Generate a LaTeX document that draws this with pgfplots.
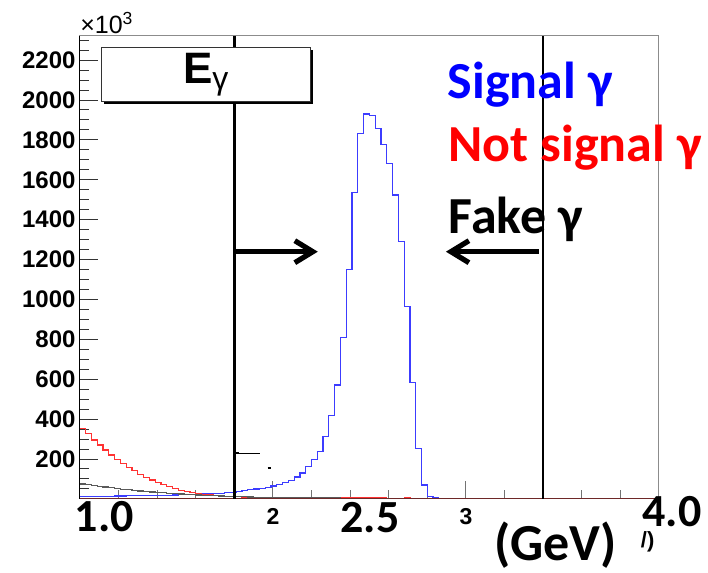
\documentclass[border=0pt]{standalone}
\usepackage{fontspec}
\setmainfont{Liberation Sans}
\newfontfamily\carlito{Carlito}
\usepackage{pgfplots}
\pgfplotsset{compat=1.18}
\usepackage{pgfplotstable}
\usetikzlibrary{arrows.meta}

\definecolor{sigline}{RGB}{60,60,255}
\definecolor{bkgline}{RGB}{255,50,50}
\definecolor{fakeline}{RGB}{90,90,90}
\definecolor{axisbot}{RGB}{110,40,40}

% E_gamma histograms, 100 bins of 0.03 GeV from 1 to 4 (last row closes the last bin)
\pgfplotstableread{
x     sig   bkg  fake
1.00  12    354  75
1.03  12    329  72
1.06  13    295  68
1.09  13    270  64
1.12  14    245  60
1.15  14    220  57
1.18  15    198  53
1.21  15    178  49
1.24  16    158  46
1.27  16    141  43
1.30  17    123  40
1.33  17    108  37
1.36  18    95   35
1.39  18    81   33
1.42  19    71   31
1.45  19    61   29
1.48  20    51   27
1.51  21    43   25
1.54  22    36   23
1.57  23    31   22
1.60  24    26   20
1.63  25    23   19
1.66  26    20   17
1.69  27    18   16
1.72  29    16   15
1.75  31    14   14
1.78  33    13   13
1.81  36    11   12
1.84  42    10   11
1.87  46    9    10
1.90  50    8    9
1.93  54    7    8
1.96  58    7    8
1.99  65    6    7
2.02  71    6    6
2.05  83    5    6
2.08  93    5    5
2.11  110   5    5
2.14  130   4    5
2.17  161   4    4
2.20  197   4    4
2.23  238   4    4
2.26  312   4    4
2.29  417   4    4
2.32  571   4    4
2.35  810   4    3
2.38  1151  4    3
2.41  1537  4    3
2.44  1833  4    3
2.47  1930  4    3
2.50  1923  4    3
2.53  1858  4    3
2.56  1778  4    3
2.59  1683  3    3
2.62  1524  3    3
2.65  1290  3    3
2.68  964   9    2
2.71  583   3    2
2.74  254   3    2
2.77  70    3    2
2.80  12    3    2
2.83  6     3    2
2.86  3     3    2
2.89  2     2    2
2.92  2     2    2
2.95  1     2    2
2.98  1     2    2
3.01  0     2    2
3.04  0     2    2
3.07  0     2    2
3.10  0     2    2
3.13  0     2    1
3.16  0     2    1
3.19  0     2    1
3.22  0     2    1
3.25  0     2    1
3.28  0     2    1
3.31  0     2    1
3.34  0     2    1
3.37  0     2    1
3.40  0     2    1
3.43  0     2    1
3.46  0     2    1
3.49  0     2    1
3.52  0     2    1
3.55  0     2    1
3.58  0     2    1
3.61  0     2    1
3.64  0     2    1
3.67  0     2    1
3.70  0     2    1
3.73  0     2    1
3.76  0     2    1
3.79  0     2    1
3.82  0     2    1
3.85  0     2    1
3.88  0     2    1
3.91  0     2    1
3.94  0     2    1
3.97  0     2    1
4.00  0     2    1
}\hist

\begin{document}
\begin{tikzpicture}
\useasboundingbox (-39.95pt,-37.05pt) rectangle (314.05pt,249.45pt);
\begin{axis}[
  at={(0,0)}, anchor=south west,
  scale only axis,
  width=289.5pt, height=231.45pt,
  xmin=1, xmax=4, ymin=0, ymax=2321,
  clip=false,
  axis line style={black!45, line width=0.5pt},
  tick align=inside,
  xtick pos=left, ytick pos=left,
  xtick={1,2,3,4}, xticklabels={,2,3,},
  minor xtick={1.2,1.4,1.6,1.8,2.2,2.4,2.6,2.8,3.2,3.4,3.6,3.8},
  ytick={200,400,...,2200},
  yticklabels={200,400,600,800,1000,1200,1400,1600,1800,2000,2200},
  minor ytick={50,100,...,2300},
  major tick length=9pt, minor tick length=4.5pt,
  xtick style={black!55, line width=0.5pt},
  ytick style={black!80, line width=0.5pt},
  yticklabel style={font=\fontsize{12}{12}\selectfont\bfseries, inner sep=0pt, xshift=-2pt},
  xticklabel style={font=\fontsize{11.5}{12}\selectfont\bfseries, inner sep=0pt, yshift=-4.5pt},
]
  \addplot[const plot mark left, draw=sigline, line width=0.6pt, no markers] table[x=x, y=sig] {\hist};
  \addplot[const plot mark left, draw=bkgline, line width=0.6pt, no markers] table[x=x, y=bkg] {\hist};
  \addplot[const plot mark left, draw=fakeline, line width=0.6pt, no markers] table[x=x, y=fake] {\hist};

  % frame parts drawn dark
  \draw[black, line width=0.6pt] (1,0) -- (1,2321);
  \draw[axisbot, line width=0.6pt] (1,0) -- (4,0);

  % cut lines
  \draw[black, line width=1.4pt] (1.8,0) -- (1.8,2321);
  \draw[black, line width=1.4pt] (3.4,0) -- (3.4,2321);

  % leftovers near 2 GeV
  \draw[black, line width=0.5pt] (1.8,230) -- (1.931,230);
  \draw[black, line width=1.1pt] (1.8,230) -- (1.826,230);
  \draw[black, line width=0.8pt] (1.973,156) -- (1.99,156);

  % arrows
  \draw[black, line width=2.6pt, -{Straight Barb[length=9pt,width=11pt]}] (1.8,1239.5) -- (2.2327,1239.5);
  \draw[black, line width=2.6pt, -{Straight Barb[length=9pt,width=11pt]}] (3.378,1239.5) -- (2.8966,1239.5);

  % title box
  \fill[black] ([shift={(1.3pt,-1.3pt)}]axis cs:1.1127,2264) rectangle ([shift={(1.3pt,-1.3pt)}]axis cs:2.1934,1991.6);
  \filldraw[fill=white, draw=black!80, line width=0.5pt] (1.1127,2264) rectangle (2.1934,1991.6);
  \node[anchor=base, inner sep=0pt] at (1.652,2083.8)
    {{\fontsize{22}{22}\selectfont\bfseries E}\raisebox{-3.2pt}{\fontsize{16}{16}\selectfont γ}};

  % exponent
  \node[anchor=base west, inner sep=0pt, font=\fontsize{12.5}{13}\selectfont] at (1.0,2334.5) {×10\textsuperscript{3}};

  % legend texts
  \node[anchor=base west, inner sep=0pt, text={rgb,255:red,0;green,0;blue,255}, font=\carlito\bfseries\fontsize{26}{26}\selectfont] at (2.9049,2008.6) {Signal γ};
  \node[anchor=base west, inner sep=0pt, text={rgb,255:red,255;green,0;blue,0}, font=\carlito\bfseries\fontsize{26}{26}\selectfont] at (2.9085,1690.7) {Not signal γ};
  \node[anchor=base west, inner sep=0pt, text=black, font=\carlito\bfseries\fontsize{26}{26}\selectfont] at (2.9085,1331.7) {Fake γ};

  % overlaid axis labels
  \node[anchor=base, inner sep=0pt, font=\carlito\bfseries\fontsize{23}{23}\selectfont] at (1.1256,-164.5) {1.0};
  \node[anchor=base, inner sep=0pt, font=\carlito\bfseries\fontsize{23}{23}\selectfont] at (2.5026,-169.5) {2.5};
  \node[anchor=base, inner sep=0pt, font=\carlito\bfseries\fontsize{23}{23}\selectfont] at (4.068,-139.4) {4.0};
  \node[anchor=base, inner sep=0pt, font=\carlito\bfseries\fontsize{26}{26}\selectfont] at (3.4654,-308) {(GeV)};
  \node[anchor=base west, inner sep=0pt, font=\fontsize{11}{11}\selectfont\bfseries] at (3.905,-246) {/)};
\end{axis}
\end{tikzpicture}
\end{document}
